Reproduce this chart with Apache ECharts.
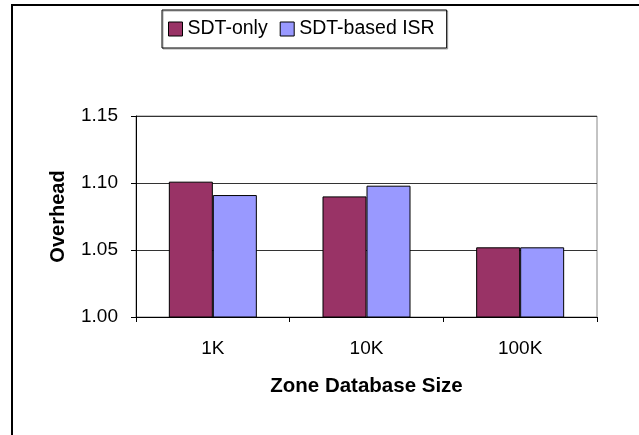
<!DOCTYPE html>
<html>
<head>
<meta charset="utf-8">
<script src="https://cdn.jsdelivr.net/npm/echarts@6/dist/echarts.min.js"></script>
<style>
  html, body { margin: 0; padding: 0; background: #fff; }
  #frame {
    position: absolute; left: 11px; top: 4px; width: 640px; height: 440px;
    border-top: 2px solid #000; border-left: 2px solid #000;
  }
  #chart { position: absolute; left: 0; top: 0; width: 639px; height: 435px; }
</style>
</head>
<body>
<div id="frame"></div>
<div id="chart"></div>
<script>
// zone database sizes
var categories = ['1K', '10K', '100K'];
var sdtOnly = [1.101, 1.090, 1.052];
var sdtIsr = [1.091, 1.098, 1.052];
var yTicks = [1.00, 1.05, 1.10, 1.15];

var font = 'Liberation Sans, Arial, sans-serif';
var chart = echarts.init(document.getElementById('chart'));

var option = {
    animation: false,
    legend: {
        left: 162,
        top: 10,
        padding: [9, 12, 9, 6],
        itemGap: 12,
        itemWidth: 14,
        itemHeight: 14,
        borderColor: '#000',
        borderWidth: 1,
        shadowColor: 'rgba(0,0,0,0.35)',
        shadowOffsetX: 1,
        shadowOffsetY: 1,
        textStyle: { fontFamily: font, fontSize: 19.5, color: '#000' },
        data: [
            { name: 'SDT-only', icon: 'rect', itemStyle: { borderColor: '#000', borderWidth: 1 } },
            { name: 'SDT-based ISR', icon: 'rect', itemStyle: { borderColor: '#000', borderWidth: 1 } }
        ]
    },
    grid: {
        left: 136, right: 42, top: 116, bottom: 118,
        show: true, borderColor: '#888', borderWidth: 1
    },
    xAxis: {
        type: 'category',
        data: categories,
        name: 'Zone Database Size',
        nameLocation: 'middle',
        nameGap: 59,
        nameTextStyle: { fontFamily: font, fontSize: 20.5, fontWeight: 'bold', color: '#000' },
        axisLine: { lineStyle: { color: '#000', width: 1 } },
        axisTick: { show: true, length: 5, lineStyle: { color: '#000' } },
        axisLabel: { fontFamily: font, fontSize: 19, color: '#000', margin: 22 }
    },
    yAxis: {
        type: 'value',
        min: yTicks[0],
        max: yTicks[yTicks.length - 1],
        interval: 0.05,
        name: 'Overhead',
        nameLocation: 'middle',
        nameGap: 68,
        nameTextStyle: { fontFamily: font, fontSize: 20, fontWeight: 'bold', color: '#000' },
        axisLine: { show: true, lineStyle: { color: '#000', width: 1 } },
        axisTick: { show: true, length: 5, lineStyle: { color: '#000' } },
        splitLine: { lineStyle: { color: '#333', width: 1 } },
        axisLabel: {
            fontFamily: font, fontSize: 19, color: '#000', margin: 18,
            formatter: function (v) { return v.toFixed(2); }
        }
    },
    series: [
        {
            name: 'SDT-only',
            type: 'bar',
            data: sdtOnly,
            barWidth: 44,
            barGap: '0%',
            itemStyle: { color: '#993366', borderColor: '#000', borderWidth: 1 }
        },
        {
            name: 'SDT-based ISR',
            type: 'bar',
            data: sdtIsr,
            barWidth: 44,
            barGap: '0%',
            itemStyle: { color: '#9999ff', borderColor: '#000', borderWidth: 1 }
        }
    ]
};

chart.setOption(option);
</script>
</body>
</html>
